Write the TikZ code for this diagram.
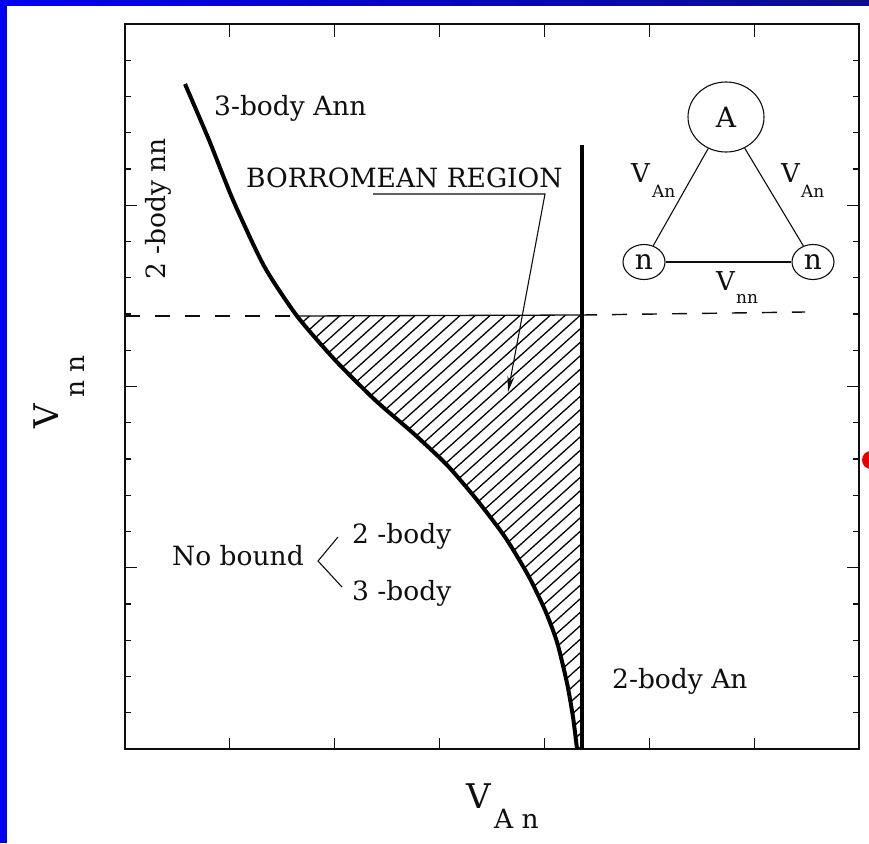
\documentclass[tikz,border=0pt]{standalone}
\usepackage{fontspec}
\setmainfont{DejaVu Serif}
\usetikzlibrary{shapes.geometric,arrows.meta}
\definecolor{leftblue}{RGB}{0,0,245}
\definecolor{topblueA}{RGB}{0,0,235}
\definecolor{topblueB}{RGB}{12,12,140}
\definecolor{ink}{RGB}{15,15,15}
\definecolor{dotred}{RGB}{235,0,0}
\begin{document}
\begin{tikzpicture}[x=1pt,y=-1pt,
  lbl/.style={inner sep=0pt, text=ink, font=\fontsize{26.5}{30}\selectfont},
  bigv/.style={inner sep=0pt, text=ink, font=\fontsize{34}{38}\selectfont},
  trilbl/.style={inner sep=0pt, text=ink, font=\fontsize{26}{30}\selectfont},
  trisub/.style={inner sep=0pt, text=ink, font=\fontsize{17}{20}\selectfont},
  frame/.style={line width=1.3pt, draw=ink},
  tickline/.style={line width=1.2pt, draw=ink},
  curveline/.style={line width=4pt, draw=black, line join=round},
  wall/.style={line width=3.2pt, draw=black},
  hatchline/.style={line width=1.3pt, draw=black},
  dashline/.style={line width=1.4pt, draw=ink, dash pattern=on 15pt off 15pt},
  thinline/.style={line width=1.1pt, draw=ink},
  particle/.style={ellipse, draw=ink, line width=1.1pt, inner sep=0pt, text=ink},
]
\useasboundingbox (0,0) rectangle (869,843);
\clip (0,0) rectangle (869,843);
\fill[white] (0,0) rectangle (869,843);
% blue slide border
\fill[leftblue] (0,0) rectangle (7,843);
\shade[left color=topblueA, right color=topblueB] (0,0) rectangle (869,6);
% red dot
\fill[dotred] (871,460) circle (9);

% frame and ticks
\draw[frame] (125,24) rectangle (859,749);
\foreach \k in {1,...,19} {
  \pgfmathsetmacro\yy{24+\k*36.25}
  \pgfmathsetmacro\len{mod(\k,5)==0 ? 12 : 6}
  \draw[tickline] (125,\yy) -- ++(\len,0);
  \draw[tickline] (859,\yy) -- ++(-\len,0);
}
\foreach \k in {1,...,6} {
  \pgfmathsetmacro\xx{125+\k*104.86}
  \draw[tickline] (\xx,749) -- ++(0,-11);
  \draw[tickline] (\xx,24) -- ++(0,13);
}

% hatched Borromean region
\begin{scope}
\clip (297,316) -- (582,315) -- (582,749) -- plot[smooth, tension=0.4] coordinates {(577,749) (573,717) (567,683) (557,642) (545,610) (528,575) (505,537) (477,500) (447,465) (413,433) (375,400) (335,360) (297,316)} -- cycle;
\foreach \i in {0,...,54} {
  \draw[hatchline] ({-210+\i*15},770) -- ++(600,-540);
}
\end{scope}

% threshold lines
\coordinate (dl0) at (125,316);
\coordinate (dl1) at (297,316);
\coordinate (dl2) at (582,315);
\coordinate (dl3) at (805,312);
\draw[dashline] (dl0) -- (dl1);
\draw[thinline, line width=1.3pt] (dl1) -- (dl2);
\draw[dashline] (dl2) -- (dl3);

% vertical 2-body An line
\coordinate (w0) at (582,145);
\coordinate (w1) at (582,749);
\draw[wall] (w0) -- (w1);

% 3-body curve
\draw[curveline] plot[smooth, tension=0.4] coordinates {(185,84) (209,140) (233,200) (264,266) (297,316) (335,360) (375,400) (413,433) (447,465) (477,500) (505,537) (528,575) (545,610) (557,642) (567,683) (573,717) (577,749)};

% labels
\node[lbl, anchor=base west] (t3ann) at (214,115) {3-body Ann};
\node[lbl, anchor=base west] (borr) at (246,187) {BORROMEAN REGION};
\node[lbl, anchor=base west, rotate=90] (t2nn) at (165,280) {2 -body nn};
\node[lbl, anchor=base west] (t2an) at (612,688) {2-body An};
\node[lbl, anchor=base west] (nob) at (172,565) {No bound};
\node[lbl, anchor=base west] (nob2) at (352,543) {2 -body};
\node[lbl, anchor=base west] (nob3) at (352,600) {3 -body};

% arrow to region
\coordinate (ar1) at (373,194);
\coordinate (ar2) at (545,194);
\coordinate (ar3) at (508,392);
\draw[thinline, -{Stealth[length=16pt,width=7pt]}] (ar1) -- (ar2) -- (ar3);

% bracket
\coordinate (brA) at (318,561);
\coordinate (brB) at (338,537);
\coordinate (brC) at (342,587);
\draw[thinline] (brB) -- (brA) -- (brC);

% axis labels
\node[bigv, anchor=base west, rotate=90] (vnnV) at (58,429) {V};
\node[lbl, anchor=base west, rotate=90] (vnnS) at (84,398) {n n};
\node[bigv, anchor=base west] (vanV) at (466,808) {V};
\node[lbl, anchor=base west] (vanS) at (494,828) {A n};

% three-body inset
\node[particle, minimum width=76pt, minimum height=70pt, font=\fontsize{28}{30}\selectfont] (A) at (726,117) {A};
\node[particle, minimum width=42pt, minimum height=35pt, font=\fontsize{28}{30}\selectfont] (n1) at (644,262) {n};
\node[particle, minimum width=42pt, minimum height=35pt, font=\fontsize{28}{30}\selectfont] (n2) at (813,262) {n};
\draw[thinline] (A) -- (n1);
\draw[thinline] (A) -- (n2);
\draw[thinline] (n1) -- (n2);
\node[trilbl, anchor=base west] (lv1) at (631,182) {V};
\node[trisub, anchor=base west] (ls1) at (652,197) {An};
\node[trilbl, anchor=base west] (lv2) at (781,182) {V};
\node[trisub, anchor=base west] (ls2) at (801,197) {An};
\node[trilbl, anchor=base west] (lv3) at (716,290) {V};
\node[trisub, anchor=base west] (ls3) at (736,303) {nn};
\end{tikzpicture}
\end{document}
